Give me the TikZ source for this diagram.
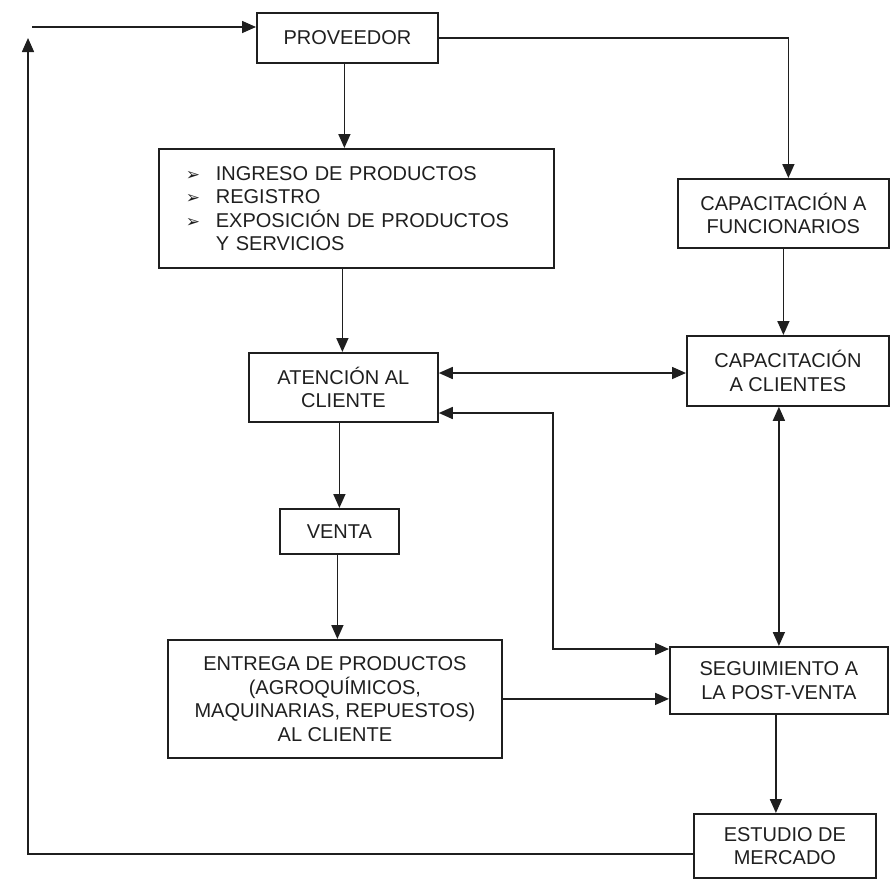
\documentclass[tikz,border=0pt]{standalone}
\usepackage{fontspec}
\setmainfont{Liberation Sans}
\newfontfamily\dejavu{DejaVu Sans}
\usetikzlibrary{arrows.meta}
\definecolor{ink}{gray}{0.12}
\newcommand{\itembul}{\makebox[30pt][l]{\dejavu\fontsize{17}{17}\selectfont ➢}}
\begin{document}
\begin{tikzpicture}[x=1pt,y=-1pt,
  box/.style={draw=ink, line width=1.8pt, anchor=north west, inner sep=0pt,
    align=center, text=ink, font=\fontsize{20}{23.5}\selectfont},
  conn/.style={draw=ink, line width=1.6pt, -{Triangle[length=14pt,width=12pt]}},
  dbl/.style={draw=ink, line width=1.6pt, {Triangle[length=14pt,width=12pt]}-{Triangle[length=14pt,width=12pt]}}]
\useasboundingbox (0,0) rectangle (891,881);

\node[box, minimum width=181pt, minimum height=50pt] (prov) at (256,12) {PROVEEDOR};
\node[box, minimum width=395pt, minimum height=119pt, text width=341pt, inner xsep=27pt, align=left] (ing) at (158,148)
  {\itembul INGRESO DE PRODUCTOS\\ \itembul REGISTRO\\ \itembul EXPOSICIÓN DE PRODUCTOS\\ \hspace*{30pt}Y SERVICIOS};
\node[box, minimum width=211pt, minimum height=69pt] (capf) at (677,178) {CAPACITACIÓN A\\FUNCIONARIOS};
\node[box, minimum width=202pt, minimum height=70pt] (capc) at (686,335) {CAPACITACIÓN\\A CLIENTES};
\node[box, minimum width=189pt, minimum height=69pt] (aten) at (248,352) {ATENCIÓN AL\\CLIENTE};
\node[box, minimum width=119pt, minimum height=45pt] (venta) at (279,508) {VENTA};
\node[box, minimum width=334pt, minimum height=118pt] (entr) at (167,639)
  {ENTREGA DE PRODUCTOS\\(AGROQUÍMICOS,\\MAQUINARIAS, REPUESTOS)\\AL CLIENTE};
\node[box, minimum width=218pt, minimum height=67pt] (seg) at (669,646) {SEGUIMIENTO A\\LA POST-VENTA};
\node[box, minimum width=182pt, minimum height=64pt] (est) at (693,813) {ESTUDIO DE\\MERCADO};

% loop from Estudio de mercado back up the left side
\coordinate (lt) at (28,38);
\draw[conn] ([yshift=-8pt]est.west) -| (lt);
\coordinate (tstart) at (32,27);
\draw[conn] (tstart) -- (tstart -| prov.west);

% Proveedor
\draw[conn] (prov.east) -| ([xshift=5pt]capf.north);
\draw[conn] ([xshift=-3pt]prov.south) -- ([xshift=-3pt]prov.south |- ing.north);
\draw[conn] ([xshift=-1pt]aten.north |- ing.south) -- ([xshift=-1pt]aten.north);
\draw[conn] (capf.south) -- (capf.south |- capc.north);

% Atencion <-> Capacitacion a clientes
\coordinate (ya) at (0,373);
\draw[dbl] (ya -| aten.east) -- (ya -| capc.west);

% Atencion <-> Seguimiento
\coordinate (j1) at (553,413);
\coordinate (j2) at (553,649);
\draw[dbl] (j1 -| aten.east) -- (j1) -- (j2) -- (j2 -| seg.west);

% main column
\draw[conn] (venta.north |- aten.south) -- (venta.north);
\draw[conn] ([xshift=-2pt]venta.south) -- ([xshift=-2pt]venta.south |- entr.north);
\draw[conn] (entr.east) -- (entr.east -| seg.west);

% right column
\draw[dbl] (seg.north |- capc.south) -- (seg.north);
\draw[conn] ([xshift=-3pt]seg.south) -- ([xshift=-3pt]seg.south |- est.north);
\end{tikzpicture}
\end{document}
